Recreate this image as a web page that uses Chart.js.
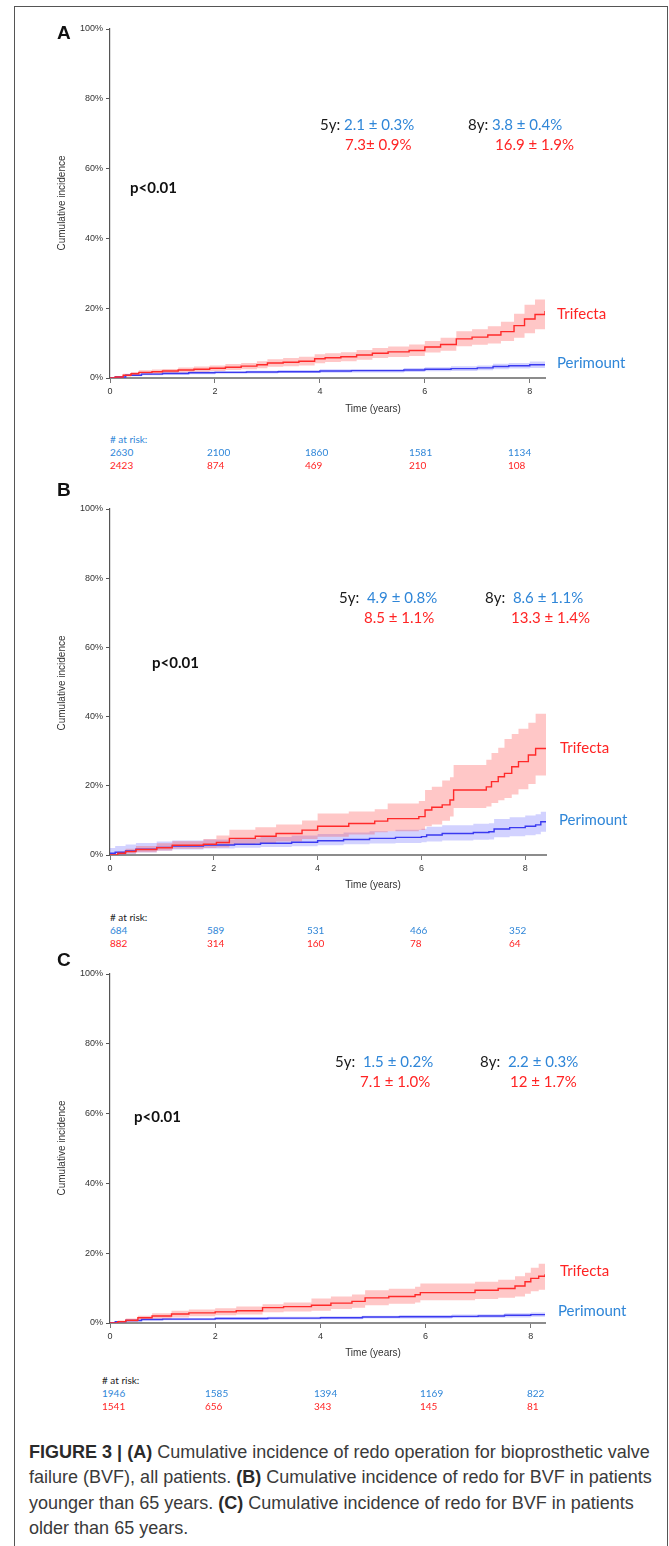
<!DOCTYPE html>
<html>
<head>
<meta charset="utf-8">
<script src="https://cdn.jsdelivr.net/npm/chart.js@4.4.1/dist/chart.umd.min.js"></script>
<style>
  body { margin: 0; width: 669px; height: 1546px; position: relative; overflow: hidden; background: #fff;
         font-family: "Liberation Sans", Arial, sans-serif; }
  .frame { position: absolute; left: 14px; top: 6px; width: 652px; height: 1600px; border: 1px solid #555; }
  canvas { position: absolute; left: 0; }
  .t { position: absolute; white-space: nowrap; line-height: 1; transform: translateY(-50%); }
  .letter { font: bold 19px "Liberation Sans", Arial, sans-serif; color: #111; }
  .ytitle { font-size: 10px; color: #333; transform: translate(-50%, -50%) rotate(-90deg); }
  .xtitle { font-size: 10px; color: #333; transform: translate(-50%, -50%); }
  .ann { font-family: Lato, sans-serif; font-size: 15px; }
  .pval { font-family: Lato, sans-serif; font-size: 15px; font-weight: bold; color: #111; }
  .blue { color: #2f86d8; }
  .red { color: #ff2424; }
  .dark { color: #1a1a1a; }
  .risk { font-family: Lato, sans-serif; font-size: 10px; }
  .caption { position: absolute; left: 29px; top: 1440px; font-size: 17.5px; line-height: 25.3px; color: #3a3a3a; }
  .caption div { white-space: nowrap; }
  .caption span.first { display: inline-block; }
  .caption b { color: #2a2a2a; }
</style>
</head>
<body>
<div class="frame"></div>

<canvas id="chartA" width="669" height="389" style="top:19px"></canvas>
<canvas id="chartB" width="669" height="386" style="top:499px"></canvas>
<canvas id="chartC" width="669" height="389" style="top:964px"></canvas>

<div class="t letter" style="left:57px; top:33px">A</div>
<div class="t letter" style="left:57px; top:490px">B</div>
<div class="t letter" style="left:57px; top:960px">C</div>

<div class="t ytitle" style="left:62px; top:203px">Cumulative incidence</div>
<div class="t ytitle" style="left:62px; top:683px">Cumulative incidence</div>
<div class="t ytitle" style="left:62px; top:1148px">Cumulative incidence</div>

<div class="t xtitle" style="left:373px; top:409px">Time (years)</div>
<div class="t xtitle" style="left:373px; top:885px">Time (years)</div>
<div class="t xtitle" style="left:373px; top:1353px">Time (years)</div>

<!-- panel A notes -->
<div class="t ann" style="left:320px; top:124px"><span class="dark">5y:</span> <span class="blue">2.1 ± 0.3%</span></div>
<div class="t ann red" style="left:345px; top:144px">7.3± 0.9%</div>
<div class="t ann" style="left:468px; top:124px"><span class="dark">8y:</span> <span class="blue">3.8 ± 0.4%</span></div>
<div class="t ann red" style="left:495px; top:144px">16.9 ± 1.9%</div>
<div class="t pval" style="left:130px; top:187px">p&lt;0.01</div>
<div class="t ann red" style="left:557px; top:313px">Trifecta</div>
<div class="t ann blue" style="left:557px; top:362px">Perimount</div>

<!-- panel B notes -->
<div class="t ann" style="left:339px; top:597px"><span class="dark">5y:</span>&nbsp; <span class="blue">4.9 ± 0.8%</span></div>
<div class="t ann red" style="left:364px; top:617px">8.5 ± 1.1%</div>
<div class="t ann" style="left:485px; top:597px"><span class="dark">8y:</span>&nbsp; <span class="blue">8.6 ± 1.1%</span></div>
<div class="t ann red" style="left:511px; top:617px">13.3 ± 1.4%</div>
<div class="t pval" style="left:152px; top:662px">p&lt;0.01</div>
<div class="t ann red" style="left:560px; top:747px">Trifecta</div>
<div class="t ann blue" style="left:559px; top:819px">Perimount</div>

<!-- panel C notes -->
<div class="t ann" style="left:335px; top:1061px"><span class="dark">5y:</span>&nbsp; <span class="blue">1.5 ± 0.2%</span></div>
<div class="t ann red" style="left:360px; top:1081px">7.1 ± 1.0%</div>
<div class="t ann" style="left:480px; top:1061px"><span class="dark">8y:</span>&nbsp; <span class="blue">2.2 ± 0.3%</span></div>
<div class="t ann red" style="left:510px; top:1081px">12 ± 1.7%</div>
<div class="t pval" style="left:134px; top:1116px">p&lt;0.01</div>
<div class="t ann red" style="left:560px; top:1270px">Trifecta</div>
<div class="t ann blue" style="left:558px; top:1310px">Perimount</div>

<div id="risk"></div>

<div class="caption" id="caption">
  <div><span class="first" id="capLine"><b>FIGURE 3 | (A)</b> Cumulative incidence of redo operation for bioprosthetic valve</span></div>
  <div>failure (BVF), all patients. <b>(B)</b> Cumulative incidence of redo for BVF in patients</div>
  <div>younger than 65 years. <b>(C)</b> Cumulative incidence of redo for BVF in patients</div>
  <div>older than 65 years.</div>
</div>

<script>
// panel A - all patients
const triTimeA = [0, 0.1, 0.25, 0.4, 0.55, 0.8, 1.0, 1.3, 1.6, 1.9, 2.2, 2.5, 2.8, 3.0, 3.3, 3.6, 3.9, 4.1, 4.4, 4.7, 5.0, 5.3, 5.7, 6.0, 6.3, 6.6, 6.9, 7.2, 7.45, 7.7, 7.9, 8.1, 8.29];
const triA     = [0, 0.3, 0.8, 1.2, 1.6, 1.8, 2.0, 2.3, 2.5, 2.8, 3.1, 3.4, 3.8, 4.3, 4.5, 4.8, 5.5, 5.8, 6.1, 6.6, 7.1, 7.5, 7.9, 8.9, 9.6, 11.2, 11.7, 12.3, 13.3, 15.0, 16.9, 18.2, 19.2];
const triLoA   = [0, 0.1, 0.4, 0.7, 1.0, 1.2, 1.4, 1.6, 1.8, 2.0, 2.3, 2.5, 2.8, 3.2, 3.4, 3.6, 4.2, 4.6, 4.8, 5.2, 5.7, 6.0, 6.3, 7.3, 7.8, 9.1, 9.5, 9.9, 10.6, 11.5, 12.8, 14.0, 15.1];
const triHiA   = [0, 0.5, 1.2, 1.7, 2.2, 2.4, 2.6, 3.0, 3.3, 3.6, 4.0, 4.3, 4.8, 5.4, 5.7, 6.1, 6.8, 7.1, 7.4, 8.0, 8.6, 9.0, 9.6, 10.6, 11.5, 13.4, 14.0, 14.8, 16.1, 18.4, 21.0, 22.5, 23.7];
const periTimeA = [0, 0.1, 0.3, 0.6, 1.0, 1.5, 2.0, 2.6, 3.2, 4.0, 4.6, 5.0, 5.6, 6.0, 6.5, 7.0, 7.3, 7.6, 8.0, 8.29];
const periA     = [0, 0.3, 0.8, 1.1, 1.3, 1.5, 1.6, 1.7, 1.8, 2.0, 2.1, 2.1, 2.3, 2.5, 2.7, 2.9, 3.3, 3.5, 3.8, 4.0];
const periLoA   = [0, 0.1, 0.5, 0.8, 0.9, 1.1, 1.2, 1.3, 1.4, 1.5, 1.6, 1.6, 1.7, 1.9, 2.0, 2.2, 2.5, 2.7, 2.9, 3.1];
const periHiA   = [0, 0.5, 1.1, 1.4, 1.7, 1.9, 2.0, 2.1, 2.3, 2.5, 2.6, 2.6, 2.9, 3.1, 3.4, 3.6, 4.1, 4.3, 4.7, 4.9];
const riskPeriA = [2630, 2100, 1860, 1581, 1134];
const riskTriA  = [2423, 874, 469, 210, 108];

// panel B - younger than 65
const triTimeB = [0, 0.15, 0.3, 0.5, 0.9, 1.2, 1.8, 2.05, 2.3, 2.8, 3.2, 3.7, 4.0, 4.6, 5.1, 5.35, 5.95, 6.07, 6.2, 6.4, 6.55, 6.62, 7.25, 7.35, 7.48, 7.6, 7.74, 7.87, 8.06, 8.2, 8.4];
const triB     = [0, 0.5, 1.0, 1.6, 2.1, 2.8, 3.1, 3.6, 4.8, 5.4, 6.2, 7.2, 8.3, 9.1, 9.8, 10.5, 11.1, 13.0, 13.8, 14.5, 15.9, 18.8, 19.7, 21.2, 22.6, 23.6, 25.5, 27.0, 28.9, 30.8, 30.8];
const triLoB   = [0, 0.1, 0.4, 0.8, 1.3, 1.8, 2.0, 2.2, 2.9, 3.3, 3.9, 4.6, 5.3, 5.9, 6.6, 6.9, 7.2, 8.3, 8.8, 9.9, 11.1, 13.6, 14.0, 15.0, 15.8, 16.5, 17.5, 19.0, 20.5, 23.0, 23.0];
const triHiB   = [0, 1.0, 1.8, 2.6, 3.4, 4.0, 4.6, 5.6, 7.3, 8.0, 8.8, 10.0, 12.0, 12.6, 13.2, 14.9, 15.6, 18.8, 19.7, 21.5, 22.5, 26.0, 27.5, 29.5, 31.0, 33.5, 35.0, 36.5, 38.2, 40.8, 40.8];
const periTimeB = [0, 0.1, 0.3, 0.5, 0.9, 1.2, 1.8, 2.4, 2.9, 3.5, 4.0, 4.5, 5.0, 5.5, 6.0, 6.1, 6.4, 7.0, 7.3, 7.4, 7.7, 8.0, 8.2, 8.3, 8.4];
const periB     = [0.5, 0.8, 1.2, 1.7, 2.2, 2.6, 2.9, 3.1, 3.4, 3.7, 4.1, 4.5, 4.8, 5.1, 5.3, 5.8, 6.2, 6.5, 6.7, 7.5, 7.9, 8.3, 8.7, 9.6, 9.6];
const periLoB   = [0, 0.1, 0.3, 0.7, 1.2, 1.6, 1.9, 2.1, 2.3, 2.5, 2.8, 3.1, 3.3, 3.5, 3.7, 3.9, 4.2, 4.4, 4.5, 5.1, 5.4, 5.7, 6.0, 6.7, 6.7];
const periHiB   = [2.0, 2.6, 3.0, 3.5, 3.9, 4.2, 4.5, 4.8, 5.2, 5.6, 6.1, 6.5, 6.9, 7.3, 7.6, 8.2, 8.6, 9.0, 9.2, 10.4, 10.9, 11.4, 11.8, 12.5, 12.5];
const riskPeriB = [684, 589, 531, 466, 352];
const riskTriB  = [882, 314, 160, 78, 64];

// panel C - older than 65
const triTimeC = [0, 0.15, 0.3, 0.53, 0.8, 1.17, 1.5, 2.0, 2.4, 2.9, 3.3, 3.83, 4.2, 4.6, 4.85, 5.3, 5.8, 5.9, 6.94, 7.38, 7.7, 7.89, 8.0, 8.15, 8.27];
const triC     = [0, 0.4, 0.8, 1.5, 2.0, 2.6, 2.9, 3.2, 3.5, 4.4, 4.7, 5.1, 5.7, 6.2, 7.2, 7.6, 8.1, 8.7, 9.4, 9.9, 10.6, 11.8, 12.8, 13.4, 14.0];
const triLoC   = [0, 0.1, 0.3, 0.9, 1.2, 1.6, 1.9, 2.2, 2.4, 3.1, 3.3, 3.5, 4.0, 4.4, 5.1, 5.5, 5.9, 6.5, 6.9, 7.2, 7.6, 8.4, 9.1, 9.5, 9.9];
const triHiC   = [0, 0.7, 1.3, 2.1, 2.8, 3.5, 3.9, 4.2, 4.7, 5.4, 5.9, 7.0, 7.6, 8.2, 9.4, 9.8, 10.4, 11.3, 11.8, 12.4, 13.4, 14.4, 15.8, 17.0, 18.5];
const periTimeC = [0, 0.1, 0.3, 0.6, 1.0, 2.0, 3.0, 4.0, 4.8, 5.5, 6.5, 7.0, 7.5, 8.0, 8.27];
const periC     = [0, 0.4, 0.7, 1.0, 1.1, 1.3, 1.4, 1.5, 1.7, 1.8, 1.9, 2.0, 2.2, 2.4, 2.6];
const periLoC   = [0, 0.2, 0.4, 0.7, 0.8, 0.9, 1.0, 1.1, 1.3, 1.3, 1.4, 1.5, 1.6, 1.8, 1.9];
const periHiC   = [0, 0.6, 1.0, 1.3, 1.4, 1.7, 1.8, 1.9, 2.1, 2.3, 2.4, 2.5, 2.8, 3.0, 3.3];
const riskPeriC = [1946, 1585, 1394, 1169, 822];
const riskTriC  = [1541, 656, 343, 145, 81];

const yTicks = [0, 20, 40, 60, 80, 100];

const RED = '#ff2a2a';
const BLUE = '#3a3af0';
const RED_BAND = 'rgba(255, 70, 70, 0.3)';
const BLUE_BAND = 'rgba(90, 90, 255, 0.27)';

Chart.defaults.font.family = '"Liberation Sans", Arial, sans-serif';

function pts(t, v) {
    return t.map((x, i) => ({ x: x, y: v[i] }));
}

function curve(t, v, color) {
    return { data: pts(t, v), borderColor: color, borderWidth: 1.4, stepped: true, pointRadius: 0, fill: false };
}

function band(t, v, color) {
    return { data: pts(t, v), borderWidth: 0, borderColor: 'rgba(0,0,0,0)', stepped: true, pointRadius: 0,
             fill: color ? '-1' : false, backgroundColor: color || 'rgba(0,0,0,0)' };
}

function makePanel(id, p) {
    return new Chart(document.getElementById(id), {
        type: 'line',
        data: {
            datasets: [
                curve(p.triT, p.tri, RED),
                curve(p.periT, p.peri, BLUE),
                band(p.triT, p.triLo),
                band(p.triT, p.triHi, RED_BAND),
                band(p.periT, p.periLo),
                band(p.periT, p.periHi, BLUE_BAND)
            ]
        },
        options: {
            responsive: false,
            animation: false,
            devicePixelRatio: 1,
            layout: { padding: { top: 10, right: 669 - p.right, bottom: 0, left: 0 } },
            plugins: { legend: { display: false }, tooltip: { enabled: false } },
            scales: {
                x: {
                    type: 'linear', min: 0, max: p.xMax,
                    ticks: { stepSize: 2, includeBounds: false, color: '#333', font: { size: 9 }, padding: 3, maxRotation: 0 },
                    grid: { drawOnChartArea: false, tickLength: 5, color: '#777' },
                    border: { color: '#8c8c8c', width: 2 },
                    afterFit: s => { s.height = 30; }
                },
                y: {
                    min: 0, max: 100,
                    afterBuildTicks: s => { s.ticks = yTicks.map(v => ({ value: v })); },
                    ticks: { callback: v => v + '%', color: '#333', font: { size: 9 }, padding: 3 },
                    grid: { drawOnChartArea: false, tickLength: 4, color: '#555' },
                    border: { color: '#555', width: 1.2 },
                    afterFit: s => { s.width = 110; }
                }
            }
        }
    });
}

function riskTable(top, xs, peri, tri, headClass) {
    const box = document.getElementById('risk');
    const add = (text, x, y, cls) => {
        const d = document.createElement('div');
        d.className = 't risk ' + cls;
        d.style.left = x + 'px';
        d.style.top = y + 'px';
        d.textContent = text;
        box.appendChild(d);
    };
    add('# at risk:', xs[0], top, headClass);
    peri.forEach((n, i) => add(n, xs[i], top + 13, 'blue'));
    tri.forEach((n, i) => add(n, xs[i], top + 26, 'red'));
}

// shrink caption so the first line spans the same width as in the figure
function fitCaption() {
    const cap = document.getElementById('caption');
    const w = document.getElementById('capLine').getBoundingClientRect().width;
    const size = parseFloat(getComputedStyle(cap).fontSize);
    cap.style.fontSize = (size * 621 / w).toFixed(2) + 'px';
}

document.addEventListener('DOMContentLoaded', function() {
    makePanel('chartA', { triT: triTimeA, tri: triA, triLo: triLoA, triHi: triHiA,
        periT: periTimeA, peri: periA, periLo: periLoA, periHi: periHiA, xMax: 8.29, right: 545 });
    makePanel('chartB', { triT: triTimeB, tri: triB, triLo: triLoB, triHi: triHiB,
        periT: periTimeB, peri: periB, periLo: periLoB, periHi: periHiB, xMax: 8.4, right: 546 });
    makePanel('chartC', { triT: triTimeC, tri: triC, triLo: triLoC, triHi: triHiC,
        periT: periTimeC, peri: periC, periLo: periLoC, periHi: periHiC, xMax: 8.27, right: 545 });

    riskTable(439, [110, 207, 305, 409, 508], riskPeriA, riskTriA, 'blue');
    riskTable(917, [110, 207, 307, 410, 509], riskPeriB, riskTriB, 'dark');
    riskTable(1380, [102, 205, 314, 420, 527], riskPeriC, riskTriC, 'dark');

    fitCaption();
});
</script>
</body>
</html>
